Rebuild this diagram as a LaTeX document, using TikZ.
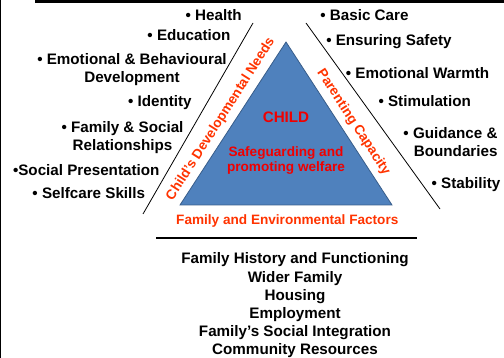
\documentclass[tikz,border=0pt]{standalone}
\usepackage{fontspec}
\setmainfont{Liberation Sans}
\usepackage{tikz}
\definecolor{triblue}{RGB}{79,129,189}
\definecolor{triedge}{RGB}{56,93,138}
\definecolor{sidered}{RGB}{255,51,0}
\definecolor{childred}{RGB}{240,0,0}
\newcommand{\sizebig}{\fontsize{15.2}{18.2}\selectfont}
\newcommand{\sizesmall}{\fontsize{13.6}{14.6}\selectfont}
\tikzset{
    common/.style={inner sep=0pt, font=\bfseries\sizebig},
    item/.style={common, anchor=base},
    twoline/.style={common, align=center},
    side/.style={inner sep=0pt, font=\bfseries\sizesmall, text=sidered},
    inner/.style={inner sep=0pt, text=childred, align=center},
    rule/.style={draw, line width=0.8pt},
    child/.style={fill=triblue, draw=triedge, line width=0.8pt}
}

\begin{document}
\begin{tikzpicture}[x=1pt, y=-1pt]
        \useasboundingbox (0,0) rectangle (504,358);
        \fill (35,0) rectangle (504,3);
        \fill (0,0) rectangle (1.3,358);

        \coordinate (T-left) at (180,205);
        \coordinate (T-apex) at (286,42);
        \coordinate (T-right) at (392,205);
        \draw[child] (T-left) -- (T-apex) -- (T-right) -- cycle;

        \coordinate (needs-low) at (143,214);
        \coordinate (needs-high) at (253,23);
        \coordinate (care-high) at (306,23);
        \coordinate (care-low) at (440,209);
        \coordinate (env-west) at (156,238);
        \coordinate (env-east) at (417,238);
        \draw[rule] (needs-low) -- (needs-high);
        \draw[rule] (care-high) -- (care-low);
        \draw[line width=1.2pt] (env-west) -- (env-east);

        \node[side, rotate=57.5] (needs) at (220.8,119.2) {Child's Developmental Needs};
        \node[side, rotate=-57] (capacity) at (353.3,122.3) {Parenting Capacity};
        \node[side] (factors) at (287.3,221) {Family and Environmental Factors};
        \node[inner, font=\bfseries\sizebig] (child) at (286,117.3) {CHILD};
        \node[inner, font=\bfseries\sizesmall] (welfare) at (286,160.5) {Safeguarding and\\promoting welfare};

        % child's developmental needs
        \path
            node[item] (health) at (213.7,21) {• Health}
            node[item] (education) at (189,40.3) {• Education}
            node[twoline] (emotional) at (132,69.8) {• Emotional \& Behavioural\\Development}
            node[item] (identity) at (159.9,107) {• Identity}
            node[twoline] (family) at (122.5,137.3) {• Family \& Social\\Relationships}
            node[item] (presentation) at (86.2,175.4) {•Social Presentation}
            node[item] (selfcare) at (88.8,198.7) {• Selfcare Skills};

        % parenting capacity
        \path
            node[item] (basic) at (364.5,21) {• Basic Care}
            node[item] (safety) at (388.9,45.4) {• Ensuring Safety}
            node[item] (warmth) at (417.5,78.7) {• Emotional Warmth}
            node[item] (stimulation) at (424.7,107) {• Stimulation}
            node[twoline, align=right, anchor=east] (guidance) at (497.7,142) {• Guidance \&\\Boundaries}
            node[item] (stability) at (466,188.7) {• Stability};

        % family and environmental factors
        \node[twoline] (history) at (295,305.4) {Family History and Functioning\\Wider Family\\Housing\\Employment\\Family's Social Integration\\Community Resources};
    \end{tikzpicture}
\end{document}
